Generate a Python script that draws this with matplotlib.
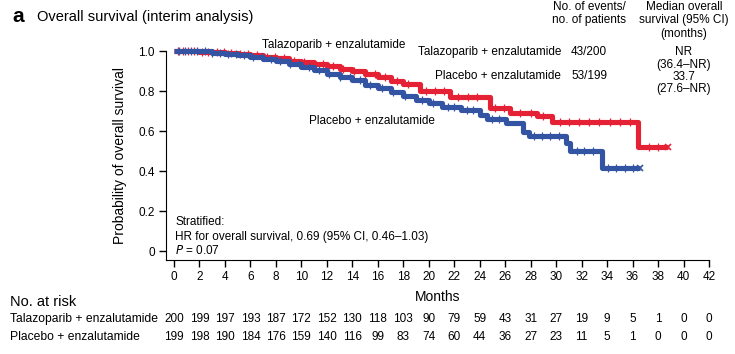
import numpy as np
import matplotlib
matplotlib.use('Agg')
import matplotlib.pyplot as plt
from matplotlib.transforms import blended_transform_factory

plt.rcParams['font.family'] = ['Liberation Sans', 'DejaVu Sans']

# Kaplan-Meier steps (months, survival probability)
tal_t = [0, 2, 3, 4, 5, 6, 7, 8, 9, 10, 11, 12, 13, 14, 15, 16, 17, 18, 19.3,
         21.7, 24.8, 26.4, 28.5, 29.7, 36.4, 38.8]
tal_s = [1.0, 0.997, 0.993, 0.99, 0.987, 0.98, 0.972, 0.963, 0.952, 0.945, 0.935,
         0.923, 0.91, 0.898, 0.885, 0.868, 0.85, 0.835, 0.80, 0.768, 0.713, 0.688,
         0.675, 0.647, 0.518, 0.518]
pla_t = [0, 2, 3, 4, 5, 6, 7, 8, 9, 10, 11, 12, 13, 14, 15, 16, 17, 18, 19,
         20, 21, 22.5, 24, 24.6, 26.1, 27.4, 27.9, 30.8, 31.1, 33.6, 36.6]
pla_s = [1.0, 0.998, 0.99, 0.985, 0.98, 0.972, 0.96, 0.948, 0.935, 0.92, 0.905,
         0.885, 0.87, 0.855, 0.83, 0.815, 0.795, 0.775, 0.755, 0.738, 0.72, 0.705,
         0.68, 0.66, 0.638, 0.597, 0.575, 0.54, 0.502, 0.415, 0.415]

# censoring marks (months)
tal_cens = [0.3, 0.7, 1.1, 1.6, 2.2, 2.7, 3.4, 3.9, 4.5, 5.2, 5.8, 6.5, 7.3, 7.9,
            8.6, 9.4, 10.2, 11.0, 11.7, 12.5, 13.3, 14.1, 15.0, 15.8, 16.6, 17.5,
            18.4, 19.8, 20.5, 21.2, 22.3, 23.1, 23.8, 25.2, 25.9, 27.2, 28.0,
            29.0, 30.3, 31.0, 31.8, 32.6, 33.4, 34.2, 35.0, 35.8, 37.3, 38.0]
pla_cens = [0.4, 0.9, 1.3, 1.8, 2.4, 3.0, 3.6, 4.2, 4.9, 5.5, 6.2, 6.9, 7.6, 8.3,
            9.1, 9.8, 10.6, 11.4, 12.2, 13.0, 13.8, 14.6, 15.4, 16.3, 17.2, 18.1,
            19.5, 20.3, 21.5, 22.0, 23.0, 23.5, 25.0, 25.5, 28.3, 28.9, 29.5,
            30.2, 31.6, 32.2, 32.9, 34.1, 34.7, 35.4, 36.0]

ticks_x = list(range(0, 43, 2))
risk_tal = [200, 199, 197, 193, 187, 172, 152, 130, 118, 103, 90, 79, 59, 43, 31,
            27, 19, 9, 5, 1, 0, 0]
risk_pla = [199, 198, 190, 184, 176, 159, 140, 116, 99, 83, 74, 60, 44, 36, 27, 23,
            11, 5, 1, 0, 0, 0]

red = '#e52235'
blue = '#3354a2'


def step_at(t, s, x):
    idx = np.searchsorted(t, x, side='right') - 1
    return np.asarray(s)[idx]


def fy(py):
    # pixel row from the top -> figure fraction
    return 1 - py / 354


fig = plt.figure(figsize=(7.35, 3.54), dpi=100)
ax = fig.add_axes([166 / 735, 94 / 354, 543 / 735, 209 / 354])

ax.plot(tal_t, tal_s, drawstyle='steps-post', color=red, lw=3.7, clip_on=False,
        solid_capstyle='butt', zorder=3)
ax.plot(pla_t, pla_s, drawstyle='steps-post', color=blue, lw=3.7, clip_on=False,
        solid_capstyle='butt', zorder=4)
ax.plot(tal_cens, step_at(tal_t, tal_s, tal_cens), ls='none', marker='|',
        ms=5.5, mew=0.9, color=red, clip_on=False, zorder=3)
ax.plot(pla_cens, step_at(pla_t, pla_s, pla_cens), ls='none', marker='|',
        ms=5.5, mew=0.9, color=blue, clip_on=False, zorder=4)
ax.plot([tal_t[-1]], [tal_s[-1]], marker='x', ms=5, mew=1.2, color=red, clip_on=False)
ax.plot([pla_t[-1]], [pla_s[-1]], marker='x', ms=5, mew=1.2, color=blue, clip_on=False)

ax.set_xlim(-0.63, 42)
ax.set_ylim(-0.045, 1.0)
ax.set_xticks(ticks_x)
ax.set_yticks([0, 0.2, 0.4, 0.6, 0.8, 1.0])
ax.set_yticklabels(['0', '0.2', '0.4', '0.6', '0.8', '1.0'])
ax.spines['top'].set_visible(False)
ax.spines['right'].set_visible(False)
ax.tick_params(labelsize=8.5, length=5, width=1, pad=3)
ax.set_ylabel('Probability of overall survival', fontsize=10, labelpad=8)
ax.set_xlabel('Months', fontsize=10, labelpad=5)

fig.text(262 / 735, fy(45), 'Talazoparib + enzalutamide', fontsize=8.5, va='center')
fig.text(309 / 735, fy(121), 'Placebo + enzalutamide', fontsize=8.5, va='center')
fig.text(175 / 735, fy(222), 'Stratified:', fontsize=8.5, va='center')
fig.text(175 / 735, fy(237), 'HR for overall survival, 0.69 (95% CI, 0.46\u20131.03)',
         fontsize=8.5, va='center')
fig.text(175 / 735, fy(251), '$\\it{P}$ = 0.07', fontsize=8.5, va='center')

# header
fig.text(12 / 735, fy(16), 'a', fontsize=15, fontweight='bold', va='center')
fig.text(37 / 735, fy(17), 'Overall survival (interim analysis)', fontsize=10.5,
         va='center')

# events / median table
fig.text(589 / 735, fy(7), 'No. of events/', fontsize=8.5, ha='center', va='center')
fig.text(589 / 735, fy(20), 'no. of patients', fontsize=8.5, ha='center', va='center')
fig.text(684 / 735, fy(7), 'Median overall', fontsize=8.5, ha='center', va='center')
fig.text(684 / 735, fy(20), 'survival (95% CI)', fontsize=8.5, ha='center', va='center')
fig.text(684 / 735, fy(34), '(months)', fontsize=8.5, ha='center', va='center')
fig.text(561 / 735, fy(52), 'Talazoparib + enzalutamide', fontsize=8.5,
         ha='right', va='center')
fig.text(589 / 735, fy(52), '43/200', fontsize=8.5, ha='center', va='center')
fig.text(684 / 735, fy(52), 'NR', fontsize=8.5, ha='center', va='center')
fig.text(684 / 735, fy(65), '(36.4\u2013NR)', fontsize=8.5, ha='center', va='center')
fig.text(561 / 735, fy(76), 'Placebo + enzalutamide', fontsize=8.5,
         ha='right', va='center')
fig.text(589 / 735, fy(76), '53/199', fontsize=8.5, ha='center', va='center')
fig.text(684 / 735, fy(77), '33.7', fontsize=8.5, ha='center', va='center')
fig.text(684 / 735, fy(89), '(27.6\u2013NR)', fontsize=8.5, ha='center', va='center')

# number at risk
fig.text(10 / 735, fy(302), 'No. at risk', fontsize=10.5, va='center')
fig.text(10 / 735, fy(319), 'Talazoparib + enzalutamide', fontsize=8.7, va='center')
fig.text(10 / 735, fy(337), 'Placebo + enzalutamide', fontsize=8.7, va='center')
blend = blended_transform_factory(ax.transData, fig.transFigure)
for x, a, b in zip(ticks_x, risk_tal, risk_pla):
    fig.text(x, fy(319), str(a), transform=blend, fontsize=8.5, ha='center', va='center')
    fig.text(x, fy(337), str(b), transform=blend, fontsize=8.5, ha='center', va='center')

fig.savefig('out.png', dpi=100)
